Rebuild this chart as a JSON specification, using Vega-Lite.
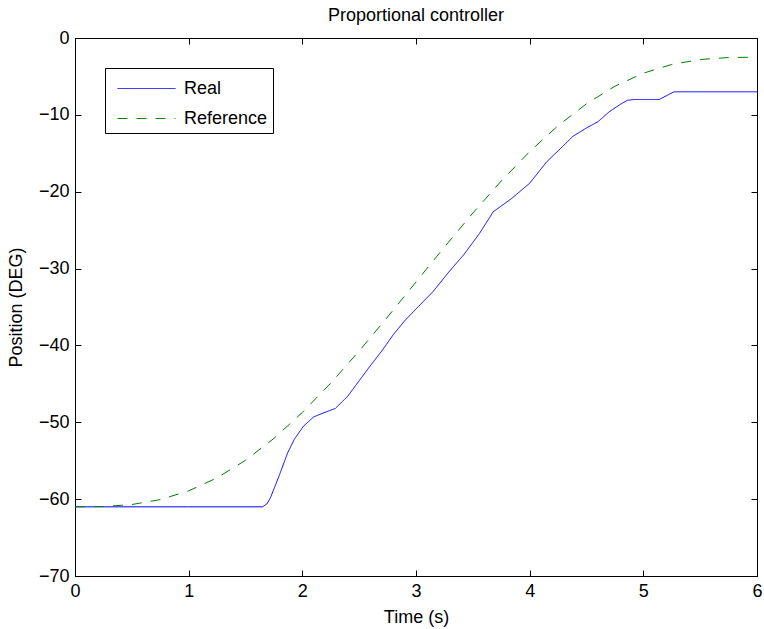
{
  "$schema": "https://vega.github.io/schema/vega-lite/v6.json",
  "width": 682,
  "height": 538,
  "autosize": "none",
  "padding": {"left": 75, "top": 38, "right": 7, "bottom": 53},
  "background": "white",
  "config": {
    "font": "Liberation Sans",
    "view": {"stroke": "black", "strokeWidth": 1},
    "axis": {"grid": false, "labelFlush": false, "domainColor": "black", "tickColor": "black", "labelColor": "black", "titleColor": "black", "labelFont": "Liberation Sans", "titleFont": "Liberation Sans", "labelFontSize": 18, "titleFontSize": 18, "titleFontWeight": "normal", "tickSize": -6}
  },
  "title": {"text": "Proportional controller", "fontSize": 18, "fontWeight": "normal", "font": "Liberation Sans", "color": "black", "offset": 4},
  "data": {"values": [
    {"t": 0, "v": -61, "s": "Real"},
    {"t": 1.0, "v": -61, "s": "Real"},
    {"t": 1.65, "v": -61, "s": "Real"},
    {"t": 1.69, "v": -60.6, "s": "Real"},
    {"t": 1.72, "v": -59.8, "s": "Real"},
    {"t": 1.80, "v": -56.8, "s": "Real"},
    {"t": 1.87, "v": -54.0, "s": "Real"},
    {"t": 1.93, "v": -52.2, "s": "Real"},
    {"t": 2.01, "v": -50.5, "s": "Real"},
    {"t": 2.1, "v": -49.3, "s": "Real"},
    {"t": 2.2, "v": -48.7, "s": "Real"},
    {"t": 2.29, "v": -48.2, "s": "Real"},
    {"t": 2.4, "v": -46.6, "s": "Real"},
    {"t": 2.5, "v": -44.6, "s": "Real"},
    {"t": 2.59, "v": -42.8, "s": "Real"},
    {"t": 2.7, "v": -40.7, "s": "Real"},
    {"t": 2.8, "v": -38.6, "s": "Real"},
    {"t": 2.9, "v": -36.8, "s": "Real"},
    {"t": 3.01, "v": -35.1, "s": "Real"},
    {"t": 3.15, "v": -33.0, "s": "Real"},
    {"t": 3.28, "v": -30.6, "s": "Real"},
    {"t": 3.42, "v": -28.2, "s": "Real"},
    {"t": 3.56, "v": -25.4, "s": "Real"},
    {"t": 3.68, "v": -22.6, "s": "Real"},
    {"t": 3.84, "v": -20.9, "s": "Real"},
    {"t": 4.0, "v": -18.9, "s": "Real"},
    {"t": 4.15, "v": -16.1, "s": "Real"},
    {"t": 4.27, "v": -14.4, "s": "Real"},
    {"t": 4.38, "v": -12.8, "s": "Real"},
    {"t": 4.5, "v": -11.7, "s": "Real"},
    {"t": 4.6, "v": -10.9, "s": "Real"},
    {"t": 4.7, "v": -9.6, "s": "Real"},
    {"t": 4.79, "v": -8.7, "s": "Real"},
    {"t": 4.86, "v": -8.1, "s": "Real"},
    {"t": 4.92, "v": -8.0, "s": "Real"},
    {"t": 5.14, "v": -8.0, "s": "Real"},
    {"t": 5.27, "v": -7.0, "s": "Real"},
    {"t": 6.0, "v": -7.0, "s": "Real"},
    {"t": 0, "v": -61, "s": "Reference"},
    {"t": 0.25, "v": -60.96, "s": "Reference"},
    {"t": 0.5, "v": -60.7, "s": "Reference"},
    {"t": 0.75, "v": -60.06, "s": "Reference"},
    {"t": 1.0, "v": -58.92, "s": "Reference"},
    {"t": 1.25, "v": -57.23, "s": "Reference"},
    {"t": 1.5, "v": -54.94, "s": "Reference"},
    {"t": 1.75, "v": -52.1, "s": "Reference"},
    {"t": 2.0, "v": -48.72, "s": "Reference"},
    {"t": 2.25, "v": -44.9, "s": "Reference"},
    {"t": 2.5, "v": -40.72, "s": "Reference"},
    {"t": 2.75, "v": -36.3, "s": "Reference"},
    {"t": 3.0, "v": -31.75, "s": "Reference"},
    {"t": 3.25, "v": -27.2, "s": "Reference"},
    {"t": 3.5, "v": -22.78, "s": "Reference"},
    {"t": 3.75, "v": -18.6, "s": "Reference"},
    {"t": 4.0, "v": -14.78, "s": "Reference"},
    {"t": 4.25, "v": -11.4, "s": "Reference"},
    {"t": 4.5, "v": -8.56, "s": "Reference"},
    {"t": 4.75, "v": -6.27, "s": "Reference"},
    {"t": 5.0, "v": -4.58, "s": "Reference"},
    {"t": 5.25, "v": -3.44, "s": "Reference"},
    {"t": 5.5, "v": -2.8, "s": "Reference"},
    {"t": 5.75, "v": -2.54, "s": "Reference"},
    {"t": 6.0, "v": -2.5, "s": "Reference"}
  ]},
  "layer": [
    {
      "mark": {"type": "line", "strokeWidth": 1, "clip": true},
      "encoding": {
        "x": {"field": "t", "type": "quantitative", "scale": {"domain": [0, 6], "nice": false, "zero": false},
              "axis": {"values": [0, 1, 2, 3, 4, 5, 6], "title": "Time (s)", "labelPadding": 12, "titleX": 341, "titleY": 41, "titleBaseline": "middle", "titleAnchor": null}},
        "y": {"field": "v", "type": "quantitative", "scale": {"domain": [-70, 0], "nice": false, "zero": false},
              "axis": {"values": [-70, -60, -50, -40, -30, -20, -10, 0], "title": "Position (DEG)", "labelPadding": 12, "titleX": -59, "titleY": 269, "titleBaseline": "middle", "titleAngle": -90}},
        "color": {"field": "s", "type": "nominal", "scale": {"domain": ["Real", "Reference"], "range": ["#0000ff", "#008000"]},
                  "legend": {"title": null, "orient": "none", "legendX": 30, "legendY": 30, "symbolType": "M-0.533,0H3.333", "symbolSize": 900, "symbolStrokeWidth": 1, "labelFontSize": 18, "labelFont": "Liberation Sans", "labelColor": "black", "labelOffset": 43, "padding": 5, "rowPadding": 5, "strokeColor": "black", "fillColor": "white"}},
        "strokeDash": {"field": "s", "type": "nominal", "scale": {"domain": ["Real", "Reference"], "range": [[1, 0], [10, 9]]}, "legend": null}
      }
    },
    {
      "mark": {"type": "line", "opacity": 0},
      "encoding": {
        "x": {"field": "t", "type": "quantitative", "axis": {"orient": "top", "values": [0, 1, 2, 3, 4, 5, 6], "labels": false, "title": null}},
        "y": {"field": "v", "type": "quantitative", "axis": {"orient": "right", "values": [-70, -60, -50, -40, -30, -20, -10, 0], "labels": false, "title": null}},
        "detail": {"field": "s"}
      }
    }
  ],
  "resolve": {"axis": {"x": "independent", "y": "independent"}}
}
